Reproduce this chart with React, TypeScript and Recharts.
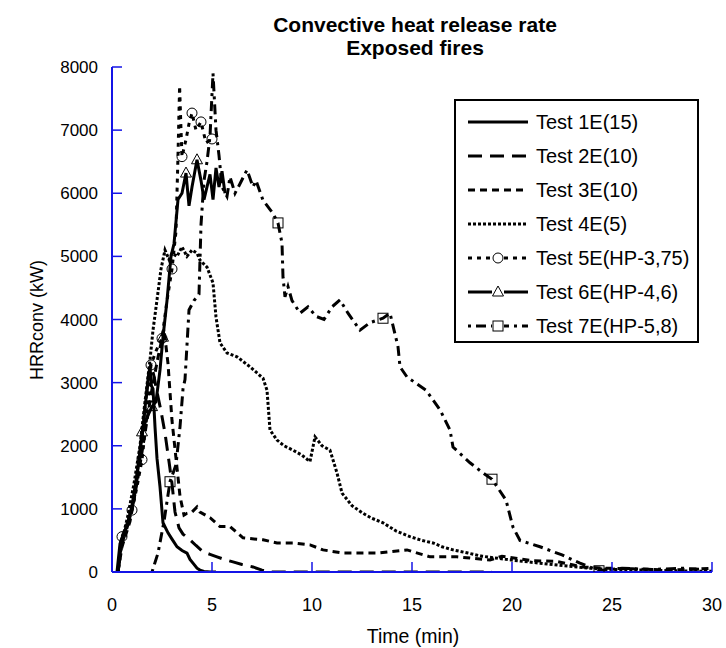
import React from "react";
import { LineChart, Line, XAxis, YAxis } from "recharts";

document.body.style.margin = "0";

const FONT = "'Liberation Sans', Arial, sans-serif";
const AXIS = "#1414e6";

const xTicks = [0, 5, 10, 15, 20, 25, 30];
const yTicks = [0, 1000, 2000, 3000, 4000, 5000, 6000, 7000, 8000];

// [time (min), HRRconv (kW)]
const test1E: [number, number][] = [
  [0.25, 0], [0.4, 450], [0.6, 600], [0.8, 800], [1.0, 1050], [1.2, 1450], [1.4, 1900],
  [1.55, 2300], [1.7, 2750], [1.82, 3100], [1.9, 3250], [1.97, 2950], [2.05, 2900],
  [2.15, 2300], [2.25, 1800], [2.4, 1350], [2.55, 780], [2.8, 620], [3.0, 520],
  [3.25, 400], [3.5, 340], [3.75, 300], [3.9, 200], [4.05, 140], [4.25, 60], [4.4, 30],
  [4.6, 10], [4.9, 0], [5.2, 0],
];

const test2E: [number, number][] = [
  [0.3, 0], [0.5, 450], [0.8, 750], [1.1, 1150], [1.4, 1800], [1.65, 2600], [1.85, 3150],
  [1.95, 3300], [2.1, 3100], [2.25, 2850], [2.45, 2550], [2.65, 2200], [2.85, 1750],
  [3.0, 1400], [3.15, 950], [3.35, 700], [3.55, 600], [3.9, 510], [4.2, 420], [4.55, 320],
  [4.9, 280], [5.25, 240], [5.6, 200], [6.05, 160], [6.5, 120], [7.05, 80], [7.5, 30],
  [7.9, 0], [9, 0], [11, 0], [13, 0], [15, 0], [17, 0], [19, 0],
];

const test3E: [number, number][] = [
  [0.3, 0], [0.5, 400], [0.9, 800], [1.3, 1500], [1.7, 2300], [2.0, 2900], [2.3, 3400],
  [2.6, 3850], [2.8, 3300], [3.0, 2400], [3.2, 1800], [3.4, 1200], [3.6, 900], [3.75, 930],
  [4.0, 950], [4.25, 1030], [4.4, 950], [4.9, 860], [5.4, 720], [5.9, 720], [6.55, 540],
  [7.55, 510], [8.25, 460], [9.05, 460], [9.9, 430], [10.55, 350], [11.55, 300],
  [13.25, 300], [14.75, 350], [15.9, 240], [17.25, 240], [18.9, 190], [19.5, 250],
  [21, 180], [22.2, 170], [23.5, 80], [24.7, 60], [26, 50], [28, 30], [30, 60],
];

const test4E: [number, number][] = [
  [0.3, 0], [0.5, 500], [0.8, 900], [1.1, 1400], [1.4, 2000], [1.65, 2700], [1.9, 3360],
  [2.05, 3830], [2.25, 4310], [2.45, 4800], [2.65, 5100], [2.85, 4950], [3.0, 5050],
  [3.25, 5000], [3.5, 5150], [3.75, 5000], [4.0, 5100], [4.25, 5050], [4.4, 4940],
  [4.75, 4830], [5.05, 4580], [5.2, 4040], [5.4, 3630], [5.75, 3470], [6.25, 3410],
  [6.9, 3250], [7.55, 3070], [7.75, 2880], [7.9, 2250], [8.25, 2090], [8.6, 2000],
  [9.05, 1930], [9.5, 1850], [9.9, 1750], [10.15, 2140], [10.5, 2000], [10.9, 1930],
  [11.25, 1570], [11.5, 1250], [12.0, 1050], [12.55, 930], [13.0, 850], [13.55, 780],
  [14.2, 650], [14.9, 560], [15.5, 500], [16.05, 460], [16.5, 400], [17.05, 350],
  [17.8, 300], [18.5, 250], [19.7, 200], [20.5, 170], [21.4, 140], [22.6, 100],
  [23.9, 60], [25, 40], [26.5, 30], [28, 20], [30, 10],
];

const test5E: [number, number][] = [
  [0.3, 0], [0.5, 560], [0.75, 750], [1.0, 980], [1.25, 1350], [1.5, 1780], [1.75, 2500],
  [1.95, 3280], [2.2, 3500], [2.5, 3700], [2.75, 4300], [3.0, 4800], [3.2, 5400],
  [3.3, 6600], [3.38, 7700], [3.45, 7000], [3.5, 6580], [3.7, 6850], [3.85, 7100],
  [4.0, 7270], [4.2, 7000], [4.45, 7130], [4.7, 6800], [5.0, 6860],
];
const marks5E = [0.5, 1.0, 1.5, 1.95, 2.5, 3.0, 3.5, 4.0, 4.45, 5.0];

const test6E: [number, number][] = [
  [0.3, 0], [0.45, 500], [0.7, 700], [1.0, 1000], [1.25, 1500], [1.5, 2220], [1.75, 2450],
  [2.0, 2620], [2.2, 2700], [2.4, 3200], [2.55, 3720], [2.75, 4300], [2.95, 5000],
  [3.1, 5200], [3.3, 5900], [3.5, 6000], [3.7, 6320], [3.85, 5800], [4.0, 6100],
  [4.25, 6530], [4.45, 6200], [4.6, 5900], [4.75, 6100], [4.9, 6300], [5.05, 5900],
  [5.2, 6400], [5.35, 6100], [5.5, 6350], [5.65, 6000],
];
const marks6E = [1.5, 2.0, 2.55, 3.7, 4.25];

const test7E: [number, number][] = [
  [2.0, 0], [2.3, 300], [2.6, 800], [2.9, 1430], [3.2, 1700], [3.4, 2300],
  [3.55, 2900], [3.65, 3050], [3.85, 4150], [4.1, 4300], [4.35, 4400], [4.45, 5500],
  [4.6, 6200], [4.75, 6500], [4.9, 6900], [5.05, 7900], [5.2, 7000], [5.35, 6600],
  [5.5, 6100], [5.75, 5950], [5.9, 6260], [6.15, 6000], [6.4, 6150], [6.75, 6370],
  [7.05, 6100], [7.2, 6200], [7.55, 5890], [8.05, 5680], [8.3, 5530], [8.5, 5210],
  [8.55, 4670], [8.65, 4360], [8.8, 4520], [9.0, 4300], [9.4, 4100], [9.8, 4200],
  [10.2, 4050], [10.6, 4000], [11.0, 4200], [11.4, 4310], [11.8, 4100], [12.4, 3830],
  [12.9, 3950], [13.55, 4020], [13.9, 4100], [14.3, 3570], [14.4, 3250], [14.75, 3090],
  [15.7, 2880], [16.4, 2570], [16.9, 2250], [17.05, 1980], [17.9, 1730], [18.55, 1570],
  [19.0, 1470], [19.7, 1140], [20.05, 710], [20.4, 500], [21.4, 400], [22.5, 270],
  [23.4, 140], [24.35, 20], [25.5, 60], [27, 40], [28.5, 60], [30, 30],
];
const marks7E = [2.9, 8.3, 13.55, 19.0, 24.35];

type Shape = "none" | "circle" | "triangle" | "square";

const series = [
  { name: "Test 1E(15)", data: test1E, dash: undefined, width: 3, shape: "none" as Shape, marks: [] as number[] },
  { name: "Test 2E(10)", data: test2E, dash: "14 8", width: 3, shape: "none" as Shape, marks: [] },
  { name: "Test 3E(10)", data: test3E, dash: "7 5", width: 3, shape: "none" as Shape, marks: [] },
  { name: "Test 4E(5)", data: test4E, dash: "3 2", width: 3, shape: "none" as Shape, marks: [] },
  { name: "Test 5E(HP-3,75)", data: test5E, dash: "4 5", width: 3, shape: "circle" as Shape, marks: marks5E },
  { name: "Test 6E(HP-4,6)", data: test6E, dash: undefined, width: 3, shape: "triangle" as Shape, marks: marks6E },
  { name: "Test 7E(HP-5,8)", data: test7E, dash: "3 5 10 5", width: 3, shape: "square" as Shape, marks: marks7E },
];

function Marker({ cx, cy, shape }: { cx: number; cy: number; shape: Shape }) {
  const s = { fill: "none", stroke: "#000", strokeWidth: 1 };
  if (shape === "circle") return <circle cx={cx} cy={cy} r={5} {...s} />;
  if (shape === "triangle")
    return <polygon points={`${cx},${cy - 6} ${cx + 5.5},${cy + 4} ${cx - 5.5},${cy + 4}`} {...s} />;
  if (shape === "square") return <rect x={cx - 5} y={cy - 5} width={10} height={10} {...s} />;
  return null;
}

const makeDot = (marks: number[], shape: Shape) => (props: any) => {
  const { cx, cy, payload, index } = props;
  if (!marks.includes(payload.t) || cx == null) return <g key={`d${index}`} />;
  return (
    <g key={`d${index}`}>
      <Marker cx={cx} cy={cy} shape={shape} />
    </g>
  );
};

// ticks drawn inward on all four sides
function LeftTick({ x, y, payload }: any) {
  return (
    <g>
      <line x1={x} x2={x + 10} y1={y} y2={y} stroke={AXIS} strokeWidth={1.5} />
      <text x={x - 14} y={y} dy={6} textAnchor="end" fontSize={17} fontFamily={FONT} fill="#000">
        {payload.value}
      </text>
    </g>
  );
}
function BottomTick({ x, y, payload }: any) {
  return (
    <g>
      <line x1={x} x2={x} y1={y} y2={y - 10} stroke={AXIS} strokeWidth={1.5} />
      <text x={x} y={y + 39} textAnchor="middle" fontSize={18} fontFamily={FONT} fill="#000">
        {payload.value}
      </text>
    </g>
  );
}
function TopTick({ x, y }: any) {
  return <line x1={x} x2={x} y1={y} y2={y + 10} stroke={AXIS} strokeWidth={1.5} />;
}
function RightTick({ x, y }: any) {
  return <line x1={x} x2={x - 10} y1={y} y2={y} stroke={AXIS} strokeWidth={1.5} />;
}

const pts = (d: [number, number][]) => d.map(([t, v]) => ({ t, v }));

function LegendBox() {
  return (
    <div
      style={{
        position: "absolute",
        left: 454,
        top: 99,
        width: 241,
        height: 240,
        border: "2px solid #000",
        background: "#fff",
        fontFamily: FONT,
        fontSize: 20,
      }}
    >
      {series.map((s, i) => (
        <div
          key={s.name}
          style={{ position: "absolute", left: 0, top: 9 + i * 34, height: 24, display: "flex", alignItems: "center" }}
        >
          <svg width={80} height={24} style={{ display: "block" }}>
            <line x1={12} x2={72} y1={12} y2={12} stroke="#000" strokeWidth={s.width} strokeDasharray={s.dash} />
            {s.shape !== "none" && (
              <g>
                <rect x={36} y={6} width={12} height={12} fill="#fff" />
                <Marker cx={42} cy={12} shape={s.shape} />
              </g>
            )}
          </svg>
          <span style={{ whiteSpace: "nowrap", color: "#000" }}>{s.name}</span>
        </div>
      ))}
    </div>
  );
}

const titleStyle: React.CSSProperties = {
  position: "absolute",
  left: 0,
  width: 830,
  textAlign: "center",
  fontFamily: FONT,
  fontWeight: "bold",
  fontSize: 21,
  lineHeight: "22px",
  color: "#000",
  whiteSpace: "nowrap",
};

export default function App() {
  return (
    <div style={{ position: "relative", width: 726, height: 648, background: "#fff" }}>
      <div style={{ ...titleStyle, top: 14 }}>Convective heat release rate</div>
      <div style={{ ...titleStyle, top: 37 }}>Exposed fires</div>
      <LineChart width={726} height={648} margin={{ top: 67, right: 14, bottom: 36, left: 0 }}>
        <XAxis
          dataKey="t"
          type="number"
          domain={[0, 30]}
          ticks={xTicks}
          interval={0}
          height={40}
          tickSize={0}
          tickMargin={0}
          tickLine={false}
          tick={BottomTick}
          axisLine={{ stroke: AXIS, strokeWidth: 2 }}
          allowDataOverflow
        />
        <XAxis
          xAxisId="top"
          orientation="top"
          dataKey="t"
          type="number"
          domain={[0, 30]}
          ticks={xTicks}
          interval={0}
          height={0}
          tickSize={0}
          tickMargin={0}
          tickLine={false}
          tick={TopTick}
          axisLine={{ stroke: AXIS, strokeWidth: 2 }}
          allowDataOverflow
        />
        <YAxis
          type="number"
          domain={[0, 8000]}
          ticks={yTicks}
          interval={0}
          width={112}
          tickSize={0}
          tickMargin={0}
          tickLine={false}
          tick={LeftTick}
          axisLine={{ stroke: AXIS, strokeWidth: 2 }}
          allowDataOverflow
        />
        <YAxis
          yAxisId="right"
          orientation="right"
          type="number"
          domain={[0, 8000]}
          ticks={yTicks}
          interval={0}
          width={0}
          tickSize={0}
          tickMargin={0}
          tickLine={false}
          tick={RightTick}
          axisLine={{ stroke: AXIS, strokeWidth: 2 }}
          allowDataOverflow
        />
        {series.map((s) => (
          <Line
            key={s.name}
            data={pts(s.data)}
            dataKey="v"
            type="linear"
            stroke="#000"
            strokeWidth={s.width}
            strokeDasharray={s.dash}
            dot={s.shape === "none" ? false : makeDot(s.marks, s.shape)}
            activeDot={false}
            isAnimationActive={false}
          />
        ))}
      </LineChart>
      <div
        style={{
          position: "absolute",
          left: 413,
          top: 636,
          transform: "translate(-50%, -50%)",
          fontFamily: FONT,
          fontSize: 19.5,
          whiteSpace: "nowrap",
          color: "#000",
        }}
      >
        Time (min)
      </div>
      <div
        style={{
          position: "absolute",
          left: 37,
          top: 320,
          transform: "translate(-50%, -50%) rotate(-90deg)",
          fontFamily: FONT,
          fontSize: 18,
          whiteSpace: "nowrap",
          color: "#000",
        }}
      >
        HRRconv (kW)
      </div>
      <LegendBox />
    </div>
  );
}
